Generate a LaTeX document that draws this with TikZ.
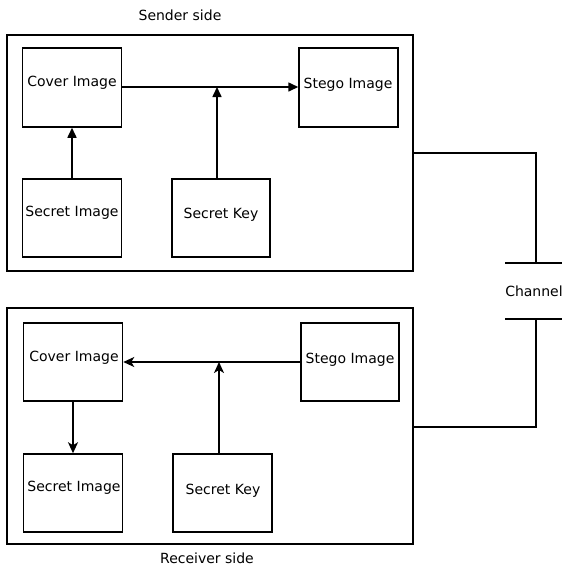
\documentclass[tikz,border=0pt]{standalone}
\usepackage{fontspec}
\setmainfont{DejaVu Sans}
\usetikzlibrary{arrows.meta}
\begin{document}
\begin{tikzpicture}[x=1pt,y=-1pt,
  outer/.style={draw,line width=1.5pt},
  blockbox/.style={draw,line width=1.5pt,inner sep=0pt},
  lbl/.style={font=\fontsize{14}{16}\selectfont,inner sep=0pt,anchor=center},
  wire/.style={line width=1.5pt},
  sarr/.style={line width=1.6pt,-{Triangle[length=10pt,width=9pt]}},
  rarr/.style={line width=1.6pt,-{Stealth[length=11pt,width=10pt,inset=3pt]}}]
\useasboundingbox (0,0) rectangle (562,566);
% sender
\node[outer,minimum width=406pt,minimum height=236pt,inner sep=0pt] (S) at (210,153) {};
\node[lbl] (stitle) at (180,15) {Sender side};
\node[blockbox,minimum width=99pt,minimum height=79pt] (sc) at (72,87.5) {};
\node[blockbox,minimum width=99pt,minimum height=79pt] (ss) at (348.5,87.5) {};
\node[blockbox,minimum width=99pt,minimum height=78pt] (si) at (72,218) {};
\node[blockbox,minimum width=98pt,minimum height=78pt] (sk) at (221,218) {};
\node[lbl] (sct) at (72,83) {Cover Image};
\node[lbl] (sst) at (348,85) {Stego Image};
\node[lbl] (sit) at (72,213) {Secret Image};
\node[lbl] (skt) at (221,215) {Secret Key};
\coordinate (sj) at (217,87);
\draw[sarr] (sc.east |- sj) -- (ss.west |- sj);
\draw[sarr] (sj |- sk.north) -- (sj);
\draw[sarr] (si.north) -- (sc.south);
% receiver
\node[outer,minimum width=406pt,minimum height=236pt,inner sep=0pt] (R) at (210,426) {};
\node[lbl] (rtitle) at (207,558) {Receiver side};
\node[blockbox,minimum width=99pt,minimum height=78pt] (rc) at (73,362) {};
\node[blockbox,minimum width=98pt,minimum height=78pt] (rs) at (350,362) {};
\node[blockbox,minimum width=99pt,minimum height=78pt] (ri) at (73,493) {};
\node[blockbox,minimum width=99pt,minimum height=78pt] (rk) at (222.5,493) {};
\node[lbl] (rct) at (74,358) {Cover Image};
\node[lbl] (rst) at (350,360) {Stego Image};
\node[lbl] (rit) at (74,488) {Secret Image};
\node[lbl] (rkt) at (223,491) {Secret Key};
\coordinate (rj) at (219,362);
\draw[rarr] (rs.west |- rj) -- (rc.east |- rj);
\draw[rarr] (rj |- rk.north) -- (rj);
\draw[rarr] (rc.south) -- (ri.north);
% channel
\coordinate (c1) at (536,153);
\coordinate (c2) at (536,263);
\coordinate (c3) at (536,319);
\coordinate (c4) at (536,427);
\coordinate (b1l) at (505,263);
\coordinate (b1r) at (562,263);
\coordinate (b2l) at (505,319);
\coordinate (b2r) at (562,319);
\draw[wire] (S.east |- c1) -- (c1) -- (c2);
\draw[wire] (b1l) -- (b1r);
\draw[wire] (b2l) -- (b2r);
\draw[wire] (c3) -- (c4) -- (R.east |- c4);
\node[lbl] (chan) at (534,291) {Channel};
\end{tikzpicture}
\end{document}
